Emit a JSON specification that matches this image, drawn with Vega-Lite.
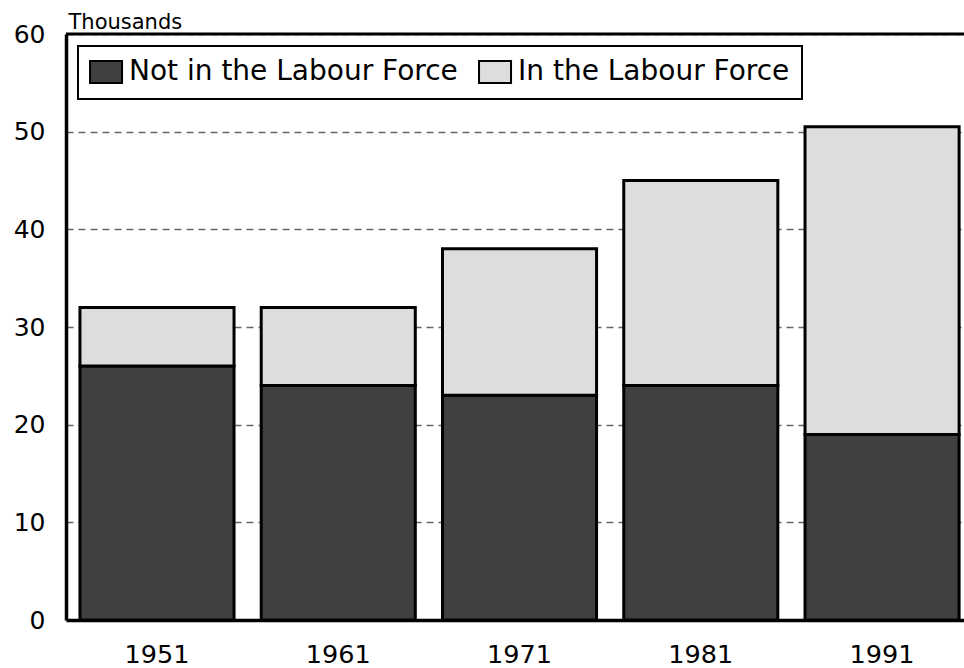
{
  "$schema": "https://vega.github.io/schema/vega-lite/v6.json",
  "autosize": "none",
  "width": 898,
  "height": 586,
  "padding": {"left": 66, "top": 34, "right": 0, "bottom": 48},
  "background": "white",
  "config": {
    "view": {"stroke": null},
    "font": "DejaVu Sans",
    "legend": {"strokeWidth": 2}
  },
  "data": {
    "values": [
      {"year": "1951", "status": "Not in the Labour Force", "k": 1, "value": 26},
      {"year": "1951", "status": "In the Labour Force", "k": 2, "value": 6},
      {"year": "1961", "status": "Not in the Labour Force", "k": 1, "value": 24},
      {"year": "1961", "status": "In the Labour Force", "k": 2, "value": 8},
      {"year": "1971", "status": "Not in the Labour Force", "k": 1, "value": 23},
      {"year": "1971", "status": "In the Labour Force", "k": 2, "value": 15},
      {"year": "1981", "status": "Not in the Labour Force", "k": 1, "value": 24},
      {"year": "1981", "status": "In the Labour Force", "k": 2, "value": 21},
      {"year": "1991", "status": "Not in the Labour Force", "k": 1, "value": 19},
      {"year": "1991", "status": "In the Labour Force", "k": 2, "value": 31.5}
    ]
  },
  "layer": [
    {
      "mark": {"type": "bar", "stroke": "black", "strokeWidth": 3, "opacity": 1},
      "encoding": {
        "x": {
          "field": "year", "type": "nominal",
          "scale": {"paddingInner": 0.15, "paddingOuter": 0.052, "align": 0.74},
          "axis": {
            "title": null, "labelAngle": 0, "ticks": false,
            "labelFontSize": 25.5, "labelColor": "black", "labelPadding": 22,
            "domainColor": "black", "domainWidth": 3.5,
            "labelFont": "DejaVu Sans"
          }
        },
        "y": {
          "field": "value", "type": "quantitative", "stack": "zero",
          "scale": {"domain": [0, 60], "nice": false},
          "axis": {
            "values": [0, 10, 20, 30, 40, 50, 60],
            "title": "Thousands", "titleAngle": 0, "titleAlign": "left",
            "titleBaseline": "alphabetic", "titleX": 2, "titleY": -6,
            "titleFontSize": 21, "titleFontWeight": "normal", "titleColor": "black",
            "titleFont": "DejaVu Sans",
            "ticks": false, "labelPadding": 21, "labelFontSize": 25, "labelColor": "black",
            "labelFont": "DejaVu Sans",
            "domainColor": "black", "domainWidth": 3.5,
            "grid": true, "gridDash": [7, 5], "gridColor": "#666666", "gridWidth": 1.5
          }
        },
        "color": {
          "field": "status", "type": "nominal",
          "scale": {
            "domain": ["Not in the Labour Force", "In the Labour Force"],
            "range": ["#404040", "#dddddd"]
          },
          "legend": {
            "orient": "none", "legendX": 12, "legendY": 12,
            "direction": "horizontal", "title": null,
            "strokeColor": "black", "fillColor": "white",
            "padding": 12,
            "symbolType": "M-1.27,-1H1.64V1H-1.27Z",
            "symbolSize": 484, "symbolStrokeColor": "black", "symbolStrokeWidth": 2,
            "symbolOpacity": 1,
            "labelFontSize": 28, "labelColor": "black", "labelFont": "DejaVu Sans",
            "labelOffset": 11, "columnPadding": 17, "labelLimit": 500
          }
        },
        "order": {"field": "k", "type": "quantitative", "sort": "ascending"}
      }
    },
    {
      "data": {"values": [{"top": 60}]},
      "mark": {"type": "rule", "color": "black", "strokeWidth": 3},
      "encoding": {
        "y": {"field": "top", "type": "quantitative"}
      }
    }
  ]
}
